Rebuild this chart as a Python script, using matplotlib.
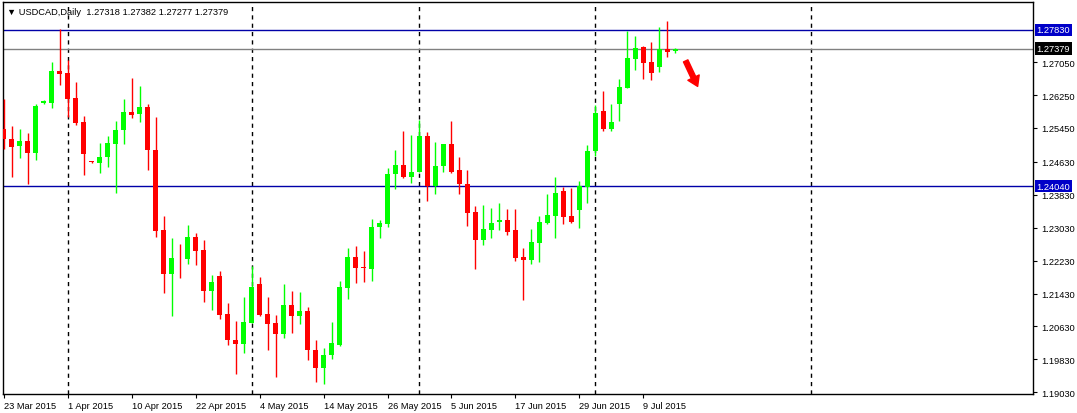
import matplotlib
matplotlib.use("Agg")
import matplotlib.pyplot as plt
import numpy as np

plt.rcParams["font.family"] = ["Liberation Sans", "DejaVu Sans"]

# USDCAD daily candles (open, high, low, close)
opens = [1.25431, 1.25189, 1.25004, 1.25133, 1.24851, 1.26067, 1.26059, 1.26833, 1.26784, 1.26180,
         1.25592, 1.24650, 1.24609, 1.24738, 1.25068, 1.25391, 1.25834, 1.25801, 1.25963, 1.24923,
         1.22974, 1.21910, 1.22297, 1.22273, 1.22797, 1.22482, 1.21500, 1.21854, 1.20936, 1.20307,
         1.20194, 1.20726, 1.21661, 1.20936, 1.20718, 1.20436, 1.21153, 1.20895, 1.21008, 1.20066,
         1.19614, 1.19929, 1.20170, 1.21572, 1.22313, 1.22080, 1.22031, 1.23046, 1.23119, 1.24327,
         1.24561, 1.24255, 1.24392, 1.25262, 1.24053, 1.24521, 1.25068, 1.24440, 1.24102, 1.23401,
         1.22732, 1.22974, 1.23167, 1.23207, 1.22974, 1.22313, 1.22249, 1.22652, 1.23135, 1.23312,
         1.23908, 1.23304, 1.23457, 1.24013, 1.24883, 1.25866, 1.25431, 1.26035, 1.26430, 1.27123,
         1.27413, 1.27050, 1.26929, 1.27364, 1.27318]
highs = [1.26156, 1.25487, 1.25415, 1.25334, 1.26035, 1.26140, 1.27058, 1.27848, 1.27098, 1.26575,
         1.25753, 1.24660, 1.25076, 1.25246, 1.25608, 1.26156, 1.26671, 1.26470, 1.26035, 1.25729,
         1.23312, 1.22772, 1.22635, 1.23095, 1.22893, 1.22732, 1.21886, 1.21967, 1.21201, 1.20774,
         1.21355, 1.22088, 1.21838, 1.21355, 1.20919, 1.21669, 1.21500, 1.21475, 1.21105, 1.20291,
         1.20098, 1.20734, 1.21741, 1.22547, 1.22579, 1.22458, 1.23240, 1.23215, 1.24488, 1.24923,
         1.25382, 1.25286, 1.25656, 1.25350, 1.25117, 1.25068, 1.25632, 1.24738, 1.24440, 1.23546,
         1.23578, 1.23506, 1.23634, 1.23481, 1.23481, 1.22539, 1.22998, 1.23312, 1.23844, 1.24255,
         1.24005, 1.23981, 1.24158, 1.25044, 1.26011, 1.26357, 1.26043, 1.26639, 1.27815, 1.27687,
         1.27445, 1.27542, 1.27912, 1.28049, 1.27382]
lows = [1.24947, 1.24263, 1.24730, 1.24102, 1.24682, 1.26027, 1.25938, 1.26494, 1.25729, 1.25528,
        1.24303, 1.24610, 1.24359, 1.24513, 1.23860, 1.25068, 1.25705, 1.25592, 1.24440, 1.22797,
        1.21443, 1.20879, 1.21806, 1.22144, 1.22128, 1.21226, 1.21040, 1.20823, 1.20170, 1.19469,
        1.19993, 1.20726, 1.20895, 1.20049, 1.19413, 1.20356, 1.20476, 1.20678, 1.19808, 1.19292,
        1.19228, 1.19832, 1.20146, 1.21306, 1.21693, 1.21717, 1.21741, 1.22772, 1.23038, 1.23965,
        1.24231, 1.24118, 1.24392, 1.23675, 1.23844, 1.24384, 1.24351, 1.23844, 1.23070, 1.22031,
        1.22611, 1.22772, 1.22974, 1.22853, 1.22225, 1.21282, 1.22144, 1.22192, 1.23111, 1.22772,
        1.23111, 1.23135, 1.23030, 1.23626, 1.24762, 1.25366, 1.25382, 1.25624, 1.26430, 1.26857,
        1.26639, 1.26615, 1.26800, 1.27171, 1.27277]
closes = [1.25173, 1.24980, 1.25133, 1.24851, 1.25979, 1.26100, 1.26833, 1.26768, 1.26156, 1.25576,
          1.24811, 1.24617, 1.24754, 1.25092, 1.25407, 1.25834, 1.25777, 1.25963, 1.24907, 1.22950,
          1.21902, 1.22289, 1.22281, 1.22797, 1.22466, 1.21500, 1.21709, 1.20919, 1.20291, 1.20194,
          1.20742, 1.21588, 1.20919, 1.20702, 1.20436, 1.21153, 1.20895, 1.21000, 1.20049, 1.19614,
          1.19945, 1.20235, 1.21588, 1.22313, 1.22055, 1.22039, 1.23038, 1.23135, 1.24343, 1.24561,
          1.24255, 1.24384, 1.25262, 1.24053, 1.24537, 1.25068, 1.24392, 1.24085, 1.23385, 1.22732,
          1.22990, 1.23135, 1.23207, 1.22925, 1.22297, 1.22249, 1.22676, 1.23167, 1.23328, 1.23860,
          1.23288, 1.23167, 1.24037, 1.24899, 1.25818, 1.25415, 1.25600, 1.26446, 1.27147, 1.27405,
          1.27026, 1.26792, 1.27372, 1.27300, 1.27379]

date_labels = ["23 Mar 2015", "1 Apr 2015", "10 Apr 2015", "22 Apr 2015", "4 May 2015",
               "14 May 2015", "26 May 2015", "5 Jun 2015", "17 Jun 2015", "29 Jun 2015", "9 Jul 2015"]
date_bars = [0, 8, 16, 24, 32, 40, 48, 56, 64, 72, 80]
separator_bars = [8, 31, 52, 74, 101]

price_ticks = [1.27050, 1.26250, 1.25450, 1.24630, 1.23830, 1.23030,
               1.22230, 1.21430, 1.20630, 1.19830, 1.19030]
level_lines = [1.27830, 1.24040]
bid = 1.27379

W, H = 1077, 414
fs = 6.7
fig = plt.figure(figsize=(W / 100, H / 100), dpi=100)
fig.patch.set_facecolor("white")
ax = fig.add_axes([3 / W, 19 / H, 1030 / W, 392 / H])

x = np.arange(len(opens))
o = np.array(opens); c = np.array(closes)
up = c >= o
cols = np.where(up, "#00ff00", "#ff0000")

# wicks then bodies
ax.vlines(x, lows, highs, colors=cols, linewidth=1.0, zorder=3)
body_h = np.maximum(np.abs(c - o), 0.00006)
ax.bar(x, body_h, bottom=np.minimum(o, c), width=0.62, color=cols, linewidth=0, zorder=4)

# period separators
for b in separator_bars:
    ax.axvline(b, color="black", linestyle=(0, (3, 3)), linewidth=1.0, zorder=1)

# horizontal levels
for lv in level_lines:
    ax.axhline(lv, color="#0000a8", linewidth=1.0, zorder=2)
ax.axhline(bid, color="#808080", linewidth=1.0, zorder=2)

ax.set_xlim(-0.1, 128.75)
ax.set_ylim(1.1899, 1.2851)

ax.yaxis.tick_right()
ax.set_yticks(price_ticks)
ax.set_yticklabels([f"{p:.5f}" for p in price_ticks])
ax.tick_params(axis="y", length=3, width=0.8, pad=3, labelsize=fs, direction="out")

ax.set_xticks(date_bars)
ax.set_xticklabels(date_labels, ha="left")
ax.tick_params(axis="x", length=3, width=0.8, pad=2, labelsize=fs, direction="out")

for s in ax.spines.values():
    s.set_color("black")
    s.set_linewidth(1.0)

# boxed price labels on the axis
for lv, bg in [(1.27830, "#0000c8"), (bid, "black"), (1.24040, "#0000c8")]:
    ax.text(1.0035, lv, f"{lv:.5f}", transform=ax.get_yaxis_transform(), ha="left", va="center",
            fontsize=fs, color="white", zorder=10,
            bbox=dict(boxstyle="square,pad=0.2", facecolor=bg, edgecolor="none"))

# header
ax.text(0.004, 0.975, "\u25bc USDCAD,Daily  1.27318 1.27382 1.27277 1.27379", transform=ax.transAxes,
        ha="left", va="center", fontsize=fs, color="black")

# red arrow
ax.annotate("", xy=(86.8, 1.2646), xytext=(85.3, 1.2708),
            arrowprops=dict(facecolor="red", edgecolor="red", width=3.5, headwidth=9, headlength=7))

fig.savefig("out.png", dpi=100)
